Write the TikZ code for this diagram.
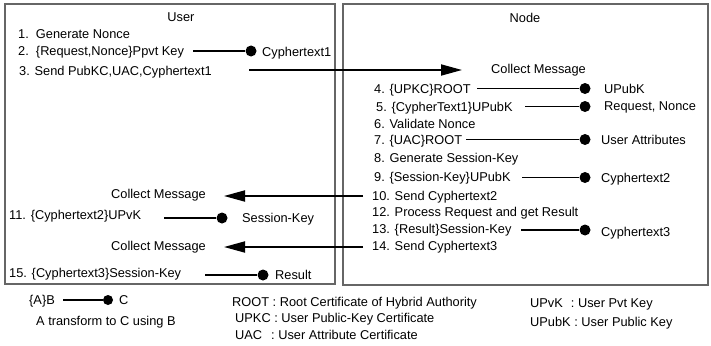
\documentclass[tikz,border=0pt]{standalone}
\usepackage{fontspec}
\setmainfont{Liberation Sans}
\usetikzlibrary{arrows.meta}
\begin{document}
\begin{tikzpicture}[x=1pt,y=-1pt,
  every node/.style={font=\fontsize{12.8}{15}\selectfont},
  txt/.style={anchor=west,inner sep=0pt,text height=9.2pt,text depth=0pt},
  ctxt/.style={inner sep=0pt,text height=9.2pt,text depth=0pt},
  panel/.style={draw=black!60,line width=1.3pt},
  dot/.style={circle,fill=black,inner sep=0pt,minimum size=11pt},
  link/.style={line width=1.8pt},
  msg/.style={line width=1.8pt,-{Triangle[length=21pt,width=11pt]}}]
\useasboundingbox (0,0) rectangle (711,345);
\fill[white] (0,0) rectangle (711,345);

% two panels
\draw[panel] (5,4) rectangle (335,284);
\draw[panel] (343,4) rectangle (708,285);

% ---- User side ----
\node[ctxt] (user) at (181,17) {User};
\node[txt] (u1) at (18,34) {1.\ \ Generate Nonce};
\node[txt] (u2) at (18,51) {2.\ \ \{Request,Nonce\}Ppvt Key};
\node[txt] (u3) at (19,71) {3. Send PubKC,UAC,Cyphertext1};
\node[txt] (c1) at (262,52) {Cyphertext1};
\node[dot] (d2) at (251,51) {};
\coordinate (s2) at (193,51);
\draw[link] (s2) -- (d2);

\node[txt] (cm2) at (111,194) {Collect Message};
\node[txt] (u11) at (9,215) {11. \{Cyphertext2\}UPvK};
\node[txt] (sk) at (242,218) {Session-Key};
\node[dot] (d11) at (222,218) {};
\coordinate (s11) at (164,218);
\draw[link] (s11) -- (d11);

\node[txt] (cm3) at (111,246) {Collect Message};
\node[txt] (u15) at (9,273) {15. \{Cyphertext3\}Session-Key};
\node[txt] (res) at (275,275) {Result};
\node[dot] (d15) at (263,275) {};
\coordinate (s15) at (205,275);
\draw[link] (s15) -- (d15);

% ---- Node side ----
\node[ctxt] (nodeh) at (525,18) {Node};
\node[txt] (cm1) at (491,69) {Collect Message};
\node[txt] (n4) at (374,88.5) {4. \{UPKC\}ROOT};
\node[txt] (r4) at (604,89) {UPubK};
\node[txt] (n5) at (376,106.5) {5. \{CypherText1\}UPubK};
\node[txt] (r5) at (604,106) {Request, Nonce};
\node[txt] (n6) at (374,123.5) {6. Validate Nonce};
\node[txt] (n7) at (374,139.5) {7. \{UAC\}ROOT};
\node[txt] (r7) at (601,140) {User Attributes};
\node[txt] (n8) at (374,158) {8. Generate Session-Key};
\node[txt] (n9) at (374,177) {9. \{Session-Key\}UPubK};
\node[txt] (r9) at (601,178) {Cyphertext2};
\node[txt] (n10) at (372,195.5) {10. Send Cyphertext2};
\node[txt] (n12) at (372,212) {12. Process Request and get Result};
\node[txt] (n13) at (372,229) {13. \{Result\}Session-Key};
\node[txt] (r13) at (601,232) {Cyphertext3};
\node[txt] (n14) at (372,246) {14. Send Cyphertext3};

\node[dot] (d4) at (585,88.5) {};
\node[dot] (d5) at (585,106.5) {};
\node[dot] (d7) at (585,139.5) {};
\node[dot] (d9) at (585,177.5) {};
\node[dot] (d13) at (585,230) {};
\coordinate (s4) at (477,88.5);
\coordinate (s5) at (525,106.5);
\coordinate (s7) at (466,139.5);
\coordinate (s9) at (522,177.5);
\coordinate (s13) at (521,230);
\draw[link] (s4) -- (d4);
\draw[link] (s5) -- (d5);
\draw[link] (s7) -- (d7);
\draw[link] (s9) -- (d9);
\draw[link] (s13) -- (d13);

% ---- messages between the two sides ----
\coordinate (m1s) at (249,70);
\coordinate (m1e) at (462,70);
\draw[msg] (m1s) -- (m1e);
\coordinate (m2s) at (363,196);
\coordinate (m2e) at (224,196);
\draw[msg] (m2s) -- (m2e);
\coordinate (m3s) at (363,247);
\coordinate (m3e) at (224,247);
\draw[msg] (m3s) -- (m3e);

% ---- legend ----
\node[txt] (la) at (29,300) {\{A\}B};
\node[txt] (lc) at (119,300) {C};
\node[dot,minimum size=10pt] (ld) at (108,300) {};
\coordinate (ls) at (63,300);
\draw[link] (ls) -- (ld);
\node[txt] (lt) at (36,321) {A transform to C using B};
\node[txt] (k1) at (232,302) {ROOT : Root Certificate of Hybrid Authority};
\node[txt] (k2) at (235,318) {UPKC : User Public-Key Certificate};
\node[txt] (k3) at (235,335) {UAC\hspace{9pt}: User Attribute Certificate};
\node[txt] (k4) at (530,303) {UPvK\hspace{8pt}: User Pvt Key};
\node[txt] (k5) at (530,322) {UPubK : User Public Key};
\end{tikzpicture}
\end{document}
